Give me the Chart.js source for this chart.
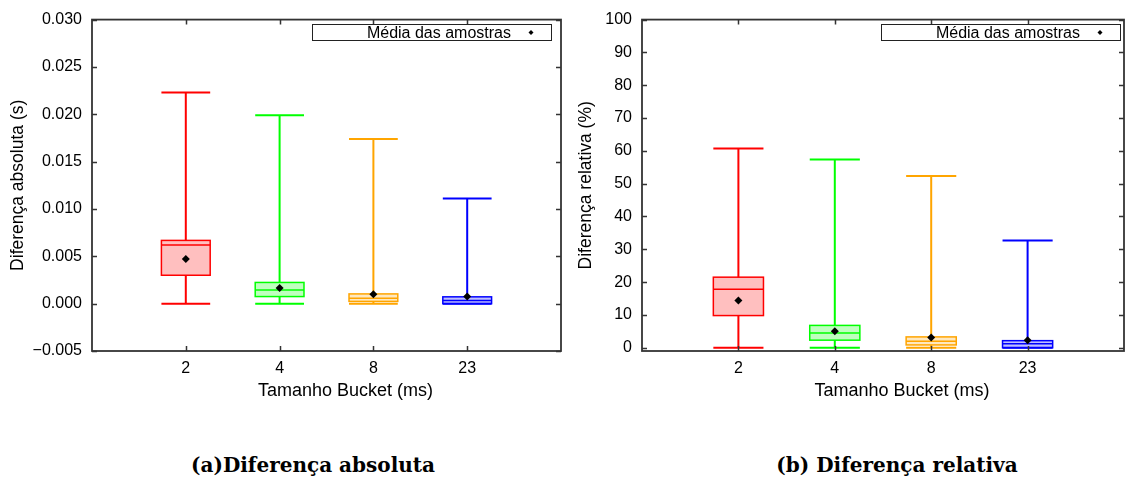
<!DOCTYPE html>
<html lang="pt">
<head>
<meta charset="utf-8">
<script src="https://cdn.jsdelivr.net/npm/chart.js@4.4.1/dist/chart.umd.min.js"></script>
<style>
  html, body { margin: 0; padding: 0; background: #fff; }
  #wrap { position: relative; width: 1133px; height: 486px; overflow: hidden; }
  #graficoAbs { position: absolute; left: 0; top: 0; }
  #graficoRel { position: absolute; left: 570px; top: 0; }
  .legenda {
    position: absolute; top: 453px; width: 400px; text-align: center;
    font: bold 20px "DejaVu Serif", serif; color: #000; white-space: pre;
  }
</style>
</head>
<body>
<div id="wrap">
  <canvas id="graficoAbs" width="570" height="420"></canvas>
  <canvas id="graficoRel" width="563" height="420"></canvas>
  <div class="legenda" style="left:113px">(a)Diferença absoluta</div>
  <div class="legenda" style="left:697px">(b) Diferença relativa</div>
</div>
<script>
const categorias = ["2", "4", "8", "23"];

// diferenca absoluta (s)
const absMin = [0, 0, 0, 0];
const absQ1 = [0.0030, 0.00075, 0.00024, 0.0];
const absMediana = [0.0062, 0.00145, 0.00058, 0.00034];
const absQ3 = [0.00668, 0.00224, 0.00103, 0.00072];
const absMax = [0.02231, 0.0199, 0.01739, 0.01111];
const absMedia = [0.00471, 0.00165, 0.0010, 0.00075];
const absTicks = [-0.005, 0, 0.005, 0.010, 0.015, 0.020, 0.025, 0.030];

// diferenca relativa (%)
const relMin = [0, 0, 0, 0];
const relQ1 = [9.8, 2.3, 0.85, 0.0];
const relMediana = [17.8, 4.5, 1.95, 1.2];
const relQ3 = [21.5, 6.8, 3.3, 2.15];
const relMax = [60.7, 57.4, 52.3, 32.7];
const relMedia = [14.4, 5.0, 3.1, 2.3];
const relTicks = [0, 10, 20, 30, 40, 50, 60, 70, 80, 90, 100];

const cores = ["#ff0000", "#00ff00", "#ffa500", "#0000ff"];
const fundos = ["rgba(255,0,0,0.25)", "rgba(0,255,0,0.25)", "rgba(255,165,0,0.25)", "rgba(0,0,255,0.25)"];
const fonte = "'Liberation Sans', Arial, sans-serif";

// caixas + bigodes desenhados com as escalas do grafico
const caixas = {
  id: "caixas",
  beforeDatasetsDraw(chart, args, opts) {
    const { ctx } = chart;
    const x = chart.scales.x, y = chart.scales.y;
    const d = opts.dados;
    ctx.save();
    for (let i = 0; i < categorias.length; i++) {
      const cx = x.getPixelForValue(i + 1);
      const hw = x.getPixelForValue(i + 1 + 0.26) - cx;
      const yMin = y.getPixelForValue(d.min[i]);
      const yQ1 = y.getPixelForValue(d.q1[i]);
      const yMed = y.getPixelForValue(d.mediana[i]);
      const yQ3 = y.getPixelForValue(d.q3[i]);
      const yMax = y.getPixelForValue(d.max[i]);
      ctx.strokeStyle = cores[i];
      ctx.lineWidth = 2;
      ctx.beginPath();
      ctx.moveTo(cx, yQ3); ctx.lineTo(cx, yMax);
      ctx.moveTo(cx - hw, yMax); ctx.lineTo(cx + hw, yMax);
      ctx.moveTo(cx, yQ1); ctx.lineTo(cx, yMin);
      ctx.moveTo(cx - hw, yMin); ctx.lineTo(cx + hw, yMin);
      ctx.stroke();
      ctx.fillStyle = fundos[i];
      ctx.fillRect(cx - hw, yQ3, 2 * hw, yQ1 - yQ3);
      ctx.lineWidth = 1.5;
      ctx.strokeRect(cx - hw, yQ3, 2 * hw, yQ1 - yQ3);
      ctx.beginPath();
      ctx.moveTo(cx - hw, yMed); ctx.lineTo(cx + hw, yMed);
      ctx.stroke();
    }
    ctx.restore();
  },
};

// moldura estilo gnuplot, ticks para dentro, legenda e titulo do eixo x
const moldura = {
  id: "moldura",
  afterDraw(chart, args, opts) {
    const { ctx, chartArea: a } = chart;
    const x = chart.scales.x, y = chart.scales.y;
    ctx.save();
    ctx.strokeStyle = "#333";
    ctx.lineWidth = 1.8;
    ctx.strokeRect(a.left, a.top, a.right - a.left, a.bottom - a.top);
    ctx.lineWidth = 1.5;
    ctx.beginPath();
    y.ticks.forEach((t) => {
      const py = Math.round(y.getPixelForValue(t.value)) + 0.5;
      ctx.moveTo(a.left, py); ctx.lineTo(a.left + 5, py);
      ctx.moveTo(a.right, py); ctx.lineTo(a.right - 5, py);
    });
    x.ticks.forEach((t) => {
      const px = Math.round(x.getPixelForValue(t.value)) + 0.5;
      ctx.moveTo(px, a.bottom); ctx.lineTo(px, a.bottom - 5);
      ctx.moveTo(px, a.top); ctx.lineTo(px, a.top + 5);
    });
    ctx.stroke();

    // legenda
    const r = a.right - opts.recuo;
    const l = r - 239;
    const t = a.top + 4.5;
    ctx.lineWidth = 1;
    ctx.strokeStyle = "#222";
    ctx.strokeRect(Math.round(l) + 0.5, Math.round(t) + 0.5, 239, 16);
    ctx.fillStyle = "#000";
    ctx.font = "16px " + fonte;
    ctx.textAlign = "right";
    ctx.textBaseline = "middle";
    ctx.fillText("Média das amostras", r - 40, t + 9);
    const mx = r - 20, my = t + 8.5;
    ctx.beginPath();
    ctx.moveTo(mx, my - 2.5); ctx.lineTo(mx + 2.5, my);
    ctx.lineTo(mx, my + 2.5); ctx.lineTo(mx - 2.5, my);
    ctx.closePath();
    ctx.fill();

    // titulo do eixo x (deslocado como no original)
    ctx.font = "18px " + fonte;
    ctx.textAlign = "center";
    ctx.fillText("Tamanho Bucket (ms)", (a.left + a.right) / 2 + 19, 391);
    ctx.restore();
  },
};

function criarGrafico(id, dados, media, ticksY, rotuloY, larguraY, recuo, tituloPad, formato) {
  const ctx = document.getElementById(id).getContext("2d");
  return new Chart(ctx, {
    type: "scatter",
    data: {
      datasets: [
        {
          label: "Média das amostras",
          data: media.map((v, i) => ({ x: i + 1, y: v })),
          pointStyle: "rectRot",
          pointRadius: 4,
          backgroundColor: "#000",
          borderColor: "#000",
          borderWidth: 0,
        },
      ],
    },
    options: {
      responsive: false,
      animation: false,
      devicePixelRatio: 1,
      layout: { padding: { top: 13, right: 9, left: 0, bottom: 0 } },
      plugins: {
        legend: { display: false },
        tooltip: { enabled: false },
        caixas: { dados: dados },
        moldura: { recuo: recuo },
      },
      scales: {
        x: {
          type: "linear",
          min: 0,
          max: 5,
          grid: { display: false, drawTicks: false },
          border: { display: false },
          afterBuildTicks: (s) => {
            s.ticks = categorias.map((c, i) => ({ value: i + 1 }));
          },
          afterFit: (s) => { s.height = 69; },
          ticks: {
            padding: 8,
            color: "#000",
            font: { family: fonte, size: 16 },
            callback: (v, i) => categorias[i],
          },
        },
        y: {
          min: ticksY[0] < 0 ? ticksY[0] : -1,
          max: ticksY[ticksY.length - 1],
          grid: { display: false, drawTicks: false },
          border: { display: false },
          afterBuildTicks: (s) => {
            s.ticks = ticksY.map((v) => ({ value: v }));
          },
          afterFit: (s) => { s.width = larguraY; },
          ticks: {
            padding: 10,
            color: "#000",
            font: { family: fonte, size: 16 },
            callback: formato,
          },
          title: {
            display: true,
            text: rotuloY,
            color: "#000",
            font: { family: fonte, size: 17.5 },
            padding: { top: tituloPad, bottom: 0 },
          },
        },
      },
    },
    plugins: [caixas, moldura],
  });
}

criarGrafico(
  "graficoAbs",
  { min: absMin, q1: absQ1, mediana: absMediana, q3: absQ3, max: absMax },
  absMedia, absTicks, "Diferença absoluta (s)", 92, 10, 8,
  (v) => Number(v).toFixed(3).replace("-", "\u2212")
);
criarGrafico(
  "graficoRel",
  { min: relMin, q1: relQ1, mediana: relMediana, q3: relQ3, max: relMax },
  relMedia, relTicks, "Diferença relativa (%)", 72, 4, 6,
  (v) => String(v)
);
</script>
</body>
</html>
